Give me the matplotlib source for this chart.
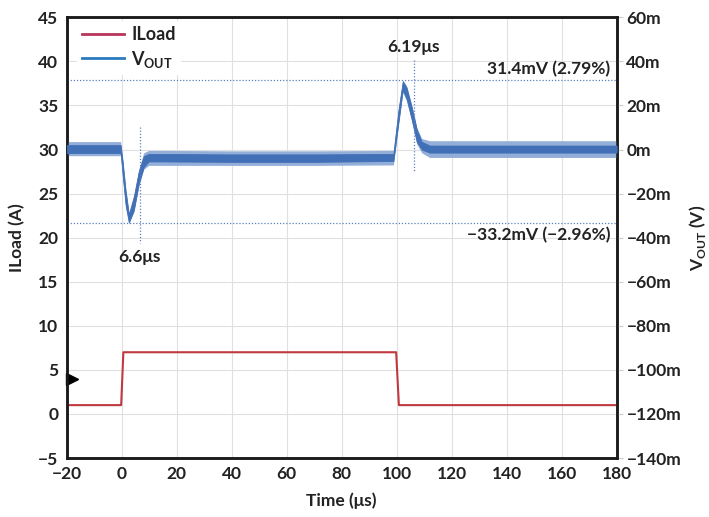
import matplotlib
matplotlib.use("Agg")
import matplotlib.pyplot as plt
from matplotlib.lines import Line2D

plt.rcParams['font.family'] = ['Lato', 'DejaVu Sans']
plt.rcParams['font.weight'] = 'bold'
plt.rcParams['mathtext.fontset'] = 'custom'
plt.rcParams['mathtext.bf'] = 'Lato:bold'
plt.rcParams['mathtext.rm'] = 'Lato:bold'

# ---- data ----
iload_t = [-20, -0.2, 0.6, 99.8, 100.8, 180]
iload_a = [1.0, 1.0, 7.0, 7.0, 1.0, 1.0]

vout_t = [-20, -0.4, 0.3, 1.4, 2.6, 4.4, 6.2, 8.0, 9.8, 14, 40, 70, 98.8,
          100.6, 102.2, 103.6, 105.5, 107.3, 109.1, 112, 140, 180]
vout_hi = [2.0, 2.0, -5, -18.5, -29.5, -21.5, -10, -3, -2.0, -2.0, -2.2, -2.2, -2.0,
           17.5, 31.0, 28, 19, 9, 3.5, 1.8, 1.8, 1.8]
vout_lo = [-1.6, -1.6, -11, -25, -33.2, -27.5, -15.5, -8, -5.4, -5.4, -5.6, -5.6, -5.2,
           12, 27, 23, 13.5, 3.5, 0.0, -1.4, -1.4, -1.4]
vout_spk_hi = [3.6, 3.6, -4, -17.5, -28.5, -20.5, -9, -1.5, -0.4, -0.4, -0.6, -0.6, -0.4,
               18.5, 31.4, 29, 20, 10, 5, 4.0, 4.0, 4.0]
vout_spk_lo = [-2.8, -2.8, -12, -26, -33.2, -28.5, -16.5, -9, -7.2, -7.2, -7.2, -7.2, -7.0,
               11, 26, 22, 12.5, 2.5, -1.5, -3.6, -3.6, -3.6]

peak_mv, dip_mv = 31.4, -33.2
t_dip_mark, t_peak_mark = 6.6, 106.19

x_ticks = list(range(-20, 181, 20))
left_ticks = list(range(-5, 46, 5))
right_ticks = list(range(-140, 61, 20))
right_labels = [f"{v}m".replace('-', '\u2212') for v in right_ticks]

c_i = '#c0393e'
c_v = '#4170b7'
c_v_light = '#93afd9'
c_ref = '#5b80c0'

fig = plt.figure(figsize=(7.09, 5.17), dpi=100)
ax1 = fig.add_axes([0.0941, 0.1141, 0.7757, 0.8524])
ax2 = ax1.twinx()

fs = 12.5
ax1.set_xlim(-20, 180)
ax1.set_ylim(-5, 45)
ax2.set_ylim(-140, 60)
ax1.set_xticks(x_ticks)
ax1.set_yticks(left_ticks)
ax1.set_yticklabels([str(v).replace('-', '\u2212') for v in left_ticks])
ax1.set_xticklabels([str(v).replace('-', '\u2212') for v in x_ticks])
ax2.set_yticks(right_ticks)
ax2.set_yticklabels(right_labels)
ax1.grid(True, color='#e0e0e0', lw=0.8)
ax1.set_axisbelow(True)
ax1.tick_params(axis='both', length=0, pad=6, labelsize=fs, colors='#222222')
ax2.tick_params(axis='y', length=4, color='#cccccc', pad=3, labelsize=fs, labelcolor='#222222')
for ax in (ax1, ax2):
    for s in ax.spines.values():
        s.set_linewidth(1.8)
        s.set_color('#1a1a1a')

ax1.plot(iload_t, iload_a, color=c_i, lw=1.5, zorder=3)

ax2.fill_between(vout_t, vout_spk_lo, vout_spk_hi, color=c_v_light, lw=0, zorder=2)
ax2.fill_between(vout_t, vout_lo, vout_hi, color=c_v, lw=0.6, edgecolor=c_v, zorder=3)

ax2.axhline(peak_mv, color=c_ref, lw=0.9, ls=(0, (1, 1.5)), zorder=1)
ax2.axhline(dip_mv, color=c_ref, lw=0.9, ls=(0, (1, 1.5)), zorder=1)
ax2.plot([t_dip_mark, t_dip_mark], [10.4, -42.4], color=c_ref, lw=0.9, ls=(0, (1, 1.5)), zorder=4)
ax2.plot([t_peak_mark, t_peak_mark], [40.6, -10], color=c_ref, lw=0.9, ls=(0, (1, 1.5)), zorder=4)

tc = '#222222'
ax2.text(t_peak_mark, 46.6, '6.19μs', ha='center', va='center', fontsize=fs, color=tc, fontweight='bold')
ax2.text(177.6, 36.4, '31.4mV (2.79%)', ha='right', va='center', fontsize=fs, color=tc, fontweight='bold')
ax2.text(177.6, -38.8, '\u221233.2mV (\u22122.96%)', ha='right', va='center', fontsize=fs, color=tc, fontweight='bold')
ax2.text(t_dip_mark, -48.8, '6.6μs', ha='center', va='center', fontsize=fs, color=tc, fontweight='bold')

# scope marker
ax1.plot([-18], [4], marker='>', color='black', markersize=9, clip_on=False, zorder=6)

ax1.set_xlabel('Time (μs)', fontsize=fs, fontweight='bold', color=tc, labelpad=7)
ax1.set_ylabel('ILoad (A)', fontsize=fs, fontweight='bold', color=tc, labelpad=9)
ax2.set_ylabel(r'V$_{\mathbf{OUT}}$ (V)', fontsize=fs, fontweight='bold', color=tc, labelpad=4)

handles = [Line2D([], [], color='#b8345a', lw=2), Line2D([], [], color='#2a7bbf', lw=2)]
leg = ax2.legend(handles, ['ILoad', r'V$_{\mathbf{OUT}}$'], loc='upper left',
                 bbox_to_anchor=(0.012, 1.0), frameon=True, fancybox=False,
                 edgecolor='none', facecolor='white', framealpha=1,
                 fontsize=fs + 0.5, handlelength=2.3, handletextpad=0.4,
                 labelspacing=0.3, borderpad=0.3, borderaxespad=0.2)
leg.set_zorder(10)
for t in leg.get_texts():
    t.set_color(tc)

fig.savefig('out.png', dpi=100)
